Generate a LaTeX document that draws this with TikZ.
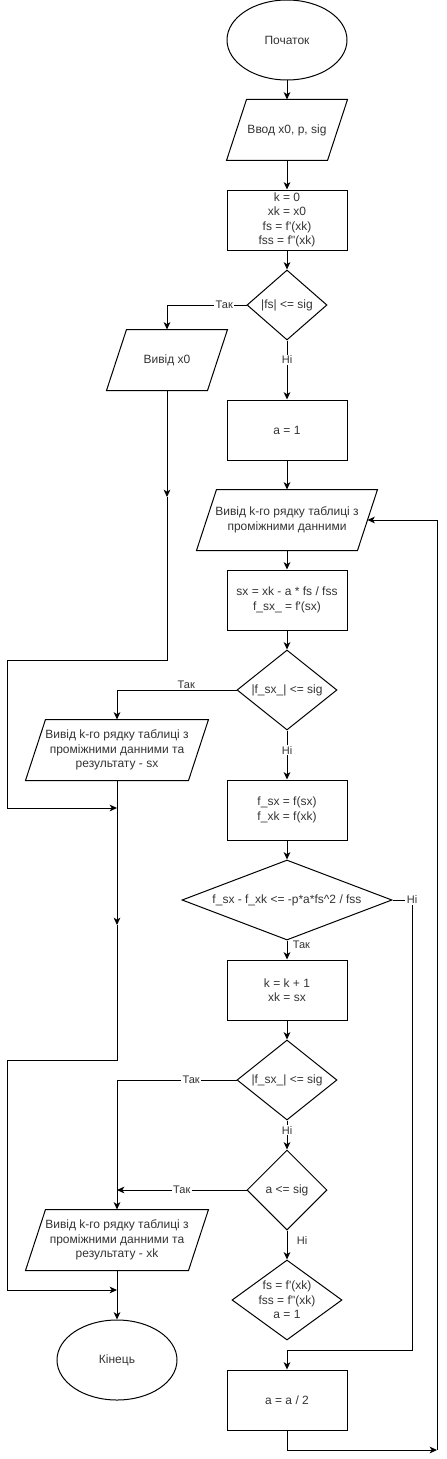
\documentclass[tikz,border=0pt]{standalone}
\usepackage{fontspec}
\newfontfamily\chartfont{Liberation Sans}
\usepackage{tikz}
\usetikzlibrary{arrows.meta}
\usetikzlibrary{shapes.geometric,positioning}

\begin{document}
\begin{tikzpicture}[->,>={Stealth[length=5.5pt,width=5pt,inset=1.5pt]},x=0.75pt,y=-0.75pt,
                    line width=0.75pt,
                    every node/.style={font=\chartfont\fontsize{9}{10.9}\selectfont,text=black!80},
                    term node/.style={ellipse,draw=black,minimum width=90pt,minimum height=60pt,inner sep=0pt},
                    proc node/.style={rectangle,draw=black,minimum width=90pt,minimum height=45pt,inner sep=0pt,align=center},
                    io node/.style={rectangle,minimum width=#1,minimum height=45pt,inner sep=0pt,align=center,
                      append after command={\pgfextra{\draw[-,black]
                        ([xshift=7.5pt]\tikzlastnode.north west) -- ([xshift=7.5pt]\tikzlastnode.north east)
                        -- ([xshift=-7.5pt]\tikzlastnode.south east) -- ([xshift=-7.5pt]\tikzlastnode.south west) -- cycle;}}},
                    io node/.default=75pt,
                    dec node/.style={diamond,draw=black,inner sep=0pt,align=center},
                    lbl/.style={font=\chartfont\fontsize{8.25}{9.9}\selectfont,fill=white,inner sep=1pt}]

  \useasboundingbox (0,0) rectangle (446,1459);

  % main column
  \node[term node] (1) at (287,40) {Початок};
  \node[io node] (2) at (287,130) {Ввод x0, p, sig};
  \node[proc node] (3) at (287,220) {k = 0\\xk = x0\\fs = f'(xk)\\fss = f''(xk)};
  \node[dec node,aspect=1.14,minimum width=60pt,minimum height=52.5pt] (4) at (287,305) {|fs| <= sig};
  \node[proc node] (6) at (287,430) {a = 1};
  \node[io node=120pt] (7) at (287,520) {Вивід k-го рядку таблиці з\\проміжними данними};
  \node[proc node] (8) at (287,600) {sx = xk - a * fs / fss\\f\_sx\_ = f'(sx)};
  \node[dec node,aspect=1.25,minimum width=75pt,minimum height=60pt] (9) at (287,690) {|f\_sx\_| <= sig};
  \node[proc node] (11) at (287,810) {f\_sx = f(sx)\\f\_xk = f(xk)};
  \node[dec node,aspect=2.6,minimum width=157.5pt,minimum height=60pt] (12) at (287,900)
    {f\_sx - f\_xk <= -p*a*fs\textasciicircum 2 / fss};
  \node[proc node] (13) at (287,990) {k = k + 1\\xk = sx};
  \node[dec node,aspect=1.25,minimum width=75pt,minimum height=60pt] (14) at (287,1080) {|f\_sx\_| <= sig};
  \node[dec node,aspect=1,minimum width=60pt,minimum height=60pt] (15) at (287,1190) {a <= sig};
  \node[dec node,aspect=1.375,minimum width=82.5pt,minimum height=60pt,inner sep=-4pt] (18) at (287,1300)
    {fs = f'(xk)\\fss = f''(xk)\\a = 1};
  \node[proc node] (19) at (287,1400) {a = a / 2};

  % left column
  \node[io node] (5) at (167,360) {Вивід x0};
  \node[io node=121.5pt] (10) at (117,750) {Вивід k-го рядку таблиці з\\проміжними данними та\\результату - sx};
  \node[io node=121.5pt] (16) at (117,1240) {Вивід k-го рядку таблиці з\\проміжними данними та\\результату - xk};
  \node[term node] (17) at (117,1360) {Кінець};

  \coordinate (c1) at (167,497);
  \coordinate (c2) at (117,808);
  \coordinate (c3) at (117,925);
  \coordinate (c4) at (117,1290);
  \coordinate (c5) at (117,1190);
  \coordinate (c6) at (437,1450);

  \path
    (1) edge (2)
    (2) edge (3)
    (3) edge (4)
    (4) edge node[lbl,pos=0.33] {Ні} (6)
    (6) edge (7)
    (7) edge (8)
    (8) edge (9)
    (9) edge node[lbl,pos=0.4] {Ні} (11)
    (11) edge (12)
    (12) edge node[lbl,fill=none,anchor=west,inner sep=4pt,pos=0.25] {Так} (13)
    (13) edge (14)
    (14) edge node[lbl,pos=0.33] {Ні} (15)
    (15) edge node[lbl,fill=none,anchor=west,inner sep=7pt,pos=0.33] {Ні} (18)
    (16) edge (17);

  \draw (4.west) -| node[lbl,pos=0.14] {Так} (5.north);
  \draw (9.west) -| node[lbl,fill=none,anchor=south,pos=0.21] {Так} (10.north);
  \draw (14.west) -| node[lbl,pos=0.19] {Так} (16.north);
  \draw (15.west) -- node[lbl,pos=0.5] {Так} (c5);
  \draw (12.east) -- (412,900) node[lbl] {Ні} -- (412,1350) -| (19.north);

  \draw (5) -- (c1);
  \draw (c1) -- (167,660) -- (7,660) |- (c2);
  \draw (10) -- (c3);
  \draw (c3) -- (117,1060) -- (7,1060) |- (c4);

  \draw (19.south) |- (c6);
  \draw (c6) |- (7.east);
\end{tikzpicture}
\end{document}
